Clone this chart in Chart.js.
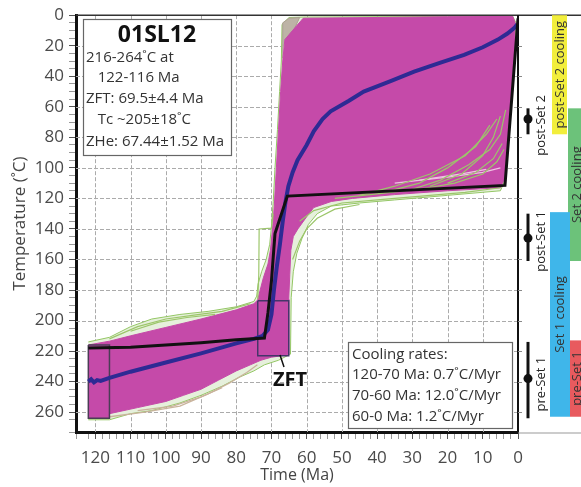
<!DOCTYPE html>
<html>
<head>
<meta charset="utf-8">
<script src="https://cdn.jsdelivr.net/npm/chart.js@4.4.1/dist/chart.umd.min.js"></script>
<style>
  html, body { margin: 0; padding: 0; background: #fff; }
</style>
</head>
<body>
<canvas id="tChart" width="581" height="487"></canvas>
<script>
// tick labels
const timeTicks = [0, 10, 20, 30, 40, 50, 60, 70, 80, 90, 100, 110, 120];
const tempTicks = [20, 40, 60, 80, 100, 120, 140, 160, 180, 200, 220, 240, 260];

// [Ma, degC] outlines
const acceptEnvelope = [[122,214],[116,211],[110,204],[104,199],[96,196],[88,194],[80,191],[75,187.5],[74.2,184],
  [73.8,176],[72.8,168],[71.5,160],[70.5,150],[70,138],[69.5,122],[69,100],[68.3,75],[67.7,50],[67.2,30],[67,6],
  [65,1.5],[61,1.2],[40,1],[20,0.8],[1.5,0.6],[0.6,5],[1,30],[1.8,55],[2.6,75],[3.1,95],[3.5,107],[5,115],
  [20,118],[35,121],[45,123],[53,125],[57,130],[59.5,137],[61.3,146],[62.8,156],[63.8,168],[64.4,185],[64.6,222],
  [68,226],[72,229],[75,233],[79,237],[84,243],[90,249],[96,254],[104,259],[110,261],[116,265],[122,265]];
const tanCorner = [[67,28],[66.8,5],[65,2],[62,1.5],[63.5,9],[66.2,16]];
const goodEnvelope = [[122,216],[116,213.5],[110,210],[100,204.5],[90,199],[80,193],[75,189],[73.9,186.5],
  [73.2,180],[72.3,172],[71,163],[70.3,154],[69.7,140],[69.2,125],[68.6,100],[68,75],[67.4,50],[66.8,30],
  [66.2,16],[64,10],[61,2],[40,1.5],[20,1],[1.5,0.8],[0.8,5],[1.2,30],[2,55],[2.8,75],[3.3,95],[3.6,106],
  [5,113],[20,115],[35,117.5],[47,120],[53,122],[58,126],[60,132],[62.5,140],[63.8,145],[64.5,154],[64.8,170],
  [65.1,186],[65.1,222],[67,223],[70,224],[73,226],[76,229],[80,233],[85,239],[90,245],[95,249],[100,253],
  [108,257],[116,261],[116,264],[122,264]];
const greenPaths = [
  [[45,118],[35,112],[25,104],[15,92],[9,78],[6,68]],
  [[38,116],[28,110],[20,100],[12,86],[8,72]],
  [[30,114],[22,108],[14,98],[8,88],[5,78],[3.5,62]],
  [[52,120],[40,117],[28,114],[18,110],[10,104],[6,96],[4,88]],
  [[25,112],[16,104],[10,92],[7,80],[5,66]],
  [[20,110],[12,103],[7,94],[4.5,84]],
  [[62,135],[58,128],[50,123],[40,121],[30,119],[15,116],[5,113]],
  [[64,160],[62,148],[60,140],[57,133],[52,127],[45,124]],
  [[73.9,186],[73.6,170],[73.5,140],[70,139.5],[69.5,130]],
  [[116,212],[108,204],[100,199],[92,196.5],[84,194],[76,189]],
  [[110,207],[102,201],[94,198],[86,196]]
];
const palePaths = [
  [[35,110],[20,106],[10,103],[5,100]],
  [[28,108],[16,104],[9,101]]
];
const tanPaths = [
  [[116,263],[106,260],[96,256],[88,248],[82,241],[77,234],[74,229]],
  [[108,259],[98,256],[90,250],[84,244]]
];
const meanPath = [[122,240],[121.2,238.5],[120.4,240.5],[119.5,239],[118.5,239.5],[116,237.5],[110,233.5],
  [100,227.5],[90,221.5],[80,215],[75,212],[72.5,210],[71,206],[70,196],[69.3,180],[68.5,165],[67.6,150],
  [66.8,135],[66,122],[65.2,112],[64,103],[62.6,95],[60,85],[58,76],[55.5,68],[53.2,63],[48,56],[43.8,50],
  [36,43],[29.5,37],[22,31],[15.3,26],[10,21],[5.7,16],[3,12],[1.1,8.5],[0.2,6]];
const bestPath = [[122,218],[110,217.5],[100,216],[90,214.5],[80,212.5],[72,211.5],[71,195],[70,174],
  [69,143],[65.5,118.5],[3.7,111.5],[0,2]];

// constraint boxes: [oldest Ma, youngest Ma, min degC, max degC]
const heatBox = [122, 116, 216, 264];
const zftBox = [73.9, 65.1, 187, 223];

// right panel
const markerNames = ['post-Set 2', 'post-Set 1', 'pre-Set 1'];
const markerMid = [68, 146, 238];
const markerLow = [61, 130, 214];
const markerHigh = [78, 161, 264];
const barNames = ['post-Set 2 cooling', 'Set 2 cooling', 'Set 1 cooling', 'pre-Set 1'];
const barTop = [0, 61, 129, 213];
const barBottom = [78, 161, 263, 263];
const barColors = ['#f2ee3c', '#6cc27a', '#3fb6ea', '#e85a5e'];

const infoLines = ['216-264˚C at', '   122-116 Ma', 'ZFT: 69.5±4.4 Ma', '   Tc ~205±18˚C', 'ZHe: 67.44±1.52 Ma'];
const rateLines = ['Cooling rates:', '120-70 Ma: 0.7˚C/Myr', '70-60 Ma: 12.0˚C/Myr', '60-0 Ma: 1.2˚C/Myr'];

const FONT = '"Open Sans", "Liberation Sans", sans-serif';

function pts(arr) { return arr.map(p => ({ x: p[0], y: p[1] })); }
function boxPts(b) {
  return pts([[b[0], b[2]], [b[1], b[2]], [b[1], b[3]], [b[0], b[3]], [b[0], b[2]]]);
}

// bottom layer first
const layers = [];
layers.push({ data: pts(acceptEnvelope), fill: 'shape', backgroundColor: '#e6f0dc', borderColor: '#94c765', borderWidth: 1 });
layers.push({ data: pts(tanCorner), fill: 'shape', backgroundColor: '#bdb3a6', borderColor: '#aaa08f', borderWidth: 1 });
tanPaths.forEach(p => layers.push({ data: pts(p), borderColor: '#c9b39c', borderWidth: 1.3 }));
layers.push({ data: pts(goodEnvelope), fill: 'shape', backgroundColor: '#c54aa9', borderColor: '#c54aa9', borderWidth: 1 });
palePaths.forEach(p => layers.push({ data: pts(p), borderColor: '#eec4e2', borderWidth: 1.3 }));
greenPaths.forEach(p => layers.push({ data: pts(p), borderColor: '#9cc66a', borderWidth: 1.2 }));
layers.push({ data: boxPts(heatBox), borderColor: '#4a3d55', borderWidth: 1.5 });
layers.push({ data: boxPts(zftBox), borderColor: '#45356a', borderWidth: 1.5 });
layers.push({ data: pts(meanPath), borderColor: '#2e2a94', borderWidth: 4 });
layers.push({ data: pts(bestPath), borderColor: '#111111', borderWidth: 3 });

const datasets = layers.map((d, i) => Object.assign({
  showLine: true, pointRadius: 0, pointHoverRadius: 0, fill: false, tension: 0,
  order: layers.length - i
}, d));

function isMajor(v, step) { return Math.abs(v % step) < 1e-6; }

// dashed grid under the paths
const gridPlugin = {
  id: 'dashGrid',
  beforeDatasetsDraw(chart) {
    const { ctx, chartArea: a, scales: { x, y } } = chart;
    ctx.save();
    ctx.strokeStyle = '#ababab'; ctx.lineWidth = 1; ctx.setLineDash([4, 2]);
    timeTicks.forEach(t => {
      if (t <= 0) return;
      const px = Math.round(x.getPixelForValue(t)) + 0.5;
      ctx.beginPath(); ctx.moveTo(px, a.top); ctx.lineTo(px, a.bottom); ctx.stroke();
    });
    tempTicks.forEach(t => {
      const py = Math.round(y.getPixelForValue(t)) + 0.5;
      ctx.beginPath(); ctx.moveTo(a.left, py); ctx.lineTo(a.right, py); ctx.stroke();
    });
    ctx.restore();
  }
};

const panelPlugin = {
  id: 'panel',
  afterDraw(chart) {
    const { ctx, chartArea: a, scales: { x, y } } = chart;
    const W = chart.width;
    ctx.save();

    // frame top / right
    ctx.strokeStyle = '#333'; ctx.lineWidth = 1.5;
    ctx.beginPath(); ctx.moveTo(a.left, a.top); ctx.lineTo(W, a.top); ctx.stroke();
    ctx.strokeStyle = '#111'; ctx.lineWidth = 2;
    ctx.beginPath(); ctx.moveTo(a.right, a.top); ctx.lineTo(a.right, a.bottom); ctx.stroke();
    ctx.strokeStyle = '#999'; ctx.lineWidth = 1;
    ctx.beginPath(); ctx.moveTo(a.right, a.bottom + 1); ctx.lineTo(W, a.bottom + 1); ctx.stroke();
    // small ticks on the inner side of the right border
    ctx.strokeStyle = '#888';
    tempTicks.forEach(t => {
      const py = Math.round(y.getPixelForValue(t)) + 0.5;
      ctx.beginPath(); ctx.moveTo(a.right, py); ctx.lineTo(a.right + 4, py); ctx.stroke();
    });

    // coloured bars
    const barX = [552, 568, 550, 570];
    const barW = [15, 20, 20, 20];
    const txtX = [560, 577, 560, 577];
    barNames.forEach((name, i) => {
      const t = y.getPixelForValue(barTop[i]);
      const b = y.getPixelForValue(barBottom[i]);
      ctx.fillStyle = barColors[i];
      ctx.fillRect(barX[i], t, barW[i], b - t);
    });
    ctx.font = '13px ' + FONT;
    ctx.fillStyle = '#333';
    ctx.textAlign = 'center'; ctx.textBaseline = 'middle';
    barNames.forEach((name, i) => {
      const c = (y.getPixelForValue(barTop[i]) + y.getPixelForValue(barBottom[i])) / 2;
      ctx.save(); ctx.translate(txtX[i], c); ctx.rotate(-Math.PI / 2);
      ctx.fillText(name, 0, 0); ctx.restore();
    });

    // range markers
    const mx = 528;
    markerNames.forEach((name, i) => {
      const lo = y.getPixelForValue(markerLow[i]);
      const hi = y.getPixelForValue(markerHigh[i]);
      const mid = y.getPixelForValue(markerMid[i]);
      ctx.strokeStyle = '#111'; ctx.lineWidth = 3;
      ctx.beginPath(); ctx.moveTo(mx, lo); ctx.lineTo(mx, hi); ctx.stroke();
      ctx.fillStyle = '#111';
      ctx.beginPath(); ctx.arc(mx, mid, 4.5, 0, Math.PI * 2); ctx.fill();
      ctx.save(); ctx.translate(541, (lo + hi) / 2 + 4); ctx.rotate(-Math.PI / 2);
      ctx.fillStyle = '#222'; ctx.fillText(name, 0, 0); ctx.restore();
    });

    // sample info box
    ctx.fillStyle = '#fff'; ctx.fillRect(83, 19, 148, 136);
    ctx.strokeStyle = '#666'; ctx.lineWidth = 1.2; ctx.strokeRect(83.5, 19.5, 148, 136);
    ctx.fillStyle = '#111'; ctx.font = 'bold 23px ' + FONT; ctx.textAlign = 'center';
    ctx.fillText('01SL12', 157, 35);
    ctx.font = '15px ' + FONT; ctx.textAlign = 'left'; ctx.fillStyle = '#333';
    const infoY = [58, 78, 99, 120, 142];
    infoLines.forEach((s, i) => ctx.fillText(s, 86, infoY[i]));

    // cooling rates box
    ctx.fillStyle = '#fff'; ctx.fillRect(348, 342, 164, 86);
    ctx.strokeStyle = '#666'; ctx.strokeRect(348.5, 342.5, 164, 86);
    ctx.fillStyle = '#333';
    const rateY = [355, 375, 396, 417];
    rateLines.forEach((s, i) => ctx.fillText(s, 352, rateY[i]));

    // ZFT label
    ctx.strokeStyle = '#111'; ctx.lineWidth = 1.5;
    ctx.beginPath(); ctx.moveTo(280, 355); ctx.lineTo(284, 367); ctx.stroke();
    ctx.fillStyle = '#111'; ctx.font = 'bold 20px ' + FONT; ctx.textAlign = 'center';
    ctx.fillText('ZFT', 290, 380);

    ctx.restore();
  }
};

new Chart(document.getElementById('tChart'), {
  type: 'scatter',
  data: { datasets: datasets },
  options: {
    responsive: false,
    animation: false,
    devicePixelRatio: 1,
    layout: { padding: { top: 14, right: 63, left: 0, bottom: 0 } },
    plugins: { legend: { display: false }, tooltip: { enabled: false } },
    scales: {
      x: {
        type: 'linear', reverse: true, min: 0, max: 125.5,
        afterFit: s => { s.height = 55; },
        ticks: {
          stepSize: 2, autoSkip: false, maxRotation: 0, padding: 9,
          font: { family: FONT, size: 17 }, color: '#4a4a4a',
          callback: v => (isMajor(v, 10) && timeTicks.includes(Math.round(v))) ? String(Math.round(v)) : ''
        },
        grid: {
          drawOnChartArea: false,
          tickColor: c => (c.tick && isMajor(c.tick.value, 10)) ? '#555' : '#999',
          tickLength: 7, lineWidth: 1
        },
        border: { display: true, color: '#111', width: 3 },
        title: { display: true, text: 'Time (Ma)', font: { family: FONT, size: 16 }, color: '#444', padding: { top: 0, bottom: 2 } }
      },
      y: {
        type: 'linear', reverse: true, min: 0, max: 273,
        afterFit: s => { s.width = 76; },
        ticks: {
          stepSize: 5, autoSkip: false, padding: 5,
          font: { family: FONT, size: 17 }, color: '#4a4a4a',
          callback: v => (v === 0 || tempTicks.includes(v)) ? String(v) : ''
        },
        grid: {
          drawOnChartArea: false,
          tickColor: c => (c.tick && isMajor(c.tick.value, 20)) ? '#555' : '#999',
          tickLength: 7, lineWidth: 1
        },
        border: { display: true, color: '#111', width: 3 },
        title: { display: true, text: 'Temperature (˚C)', font: { family: FONT, size: 17 }, color: '#444', padding: { top: 10, bottom: 0 } }
      }
    }
  },
  plugins: [gridPlugin, panelPlugin]
});
</script>
</body>
</html>
